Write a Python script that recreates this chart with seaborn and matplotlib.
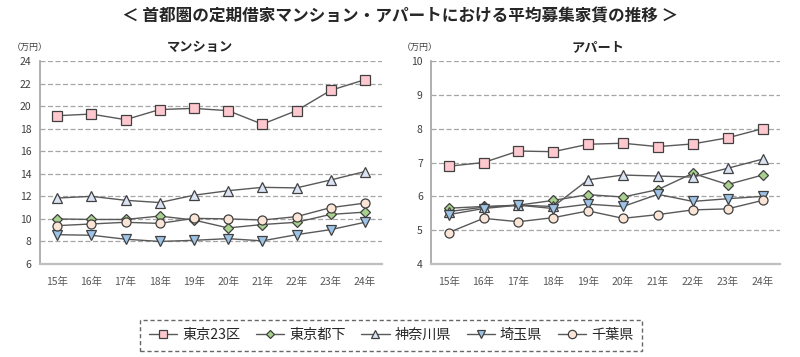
import matplotlib
matplotlib.use("Agg")
import numpy as np
import pandas as pd
import seaborn as sns
import matplotlib.pyplot as plt

# data (万円)
years = ["15年", "16年", "17年", "18年", "19年", "20年", "21年", "22年", "23年", "24年"]
series_names = ["東京23区", "東京都下", "神奈川県", "埼玉県", "千葉県"]

mansion_tokyo23 = [19.15, 19.3, 18.8, 19.7, 19.8, 19.6, 18.4, 19.6, 21.4, 22.35]
mansion_tokyo_other = [10.0, 9.95, 9.95, 10.25, 9.9, 9.2, 9.5, 9.7, 10.4, 10.6]
mansion_kanagawa = [11.85, 12.0, 11.65, 11.45, 12.1, 12.5, 12.8, 12.75, 13.45, 14.2]
mansion_saitama = [8.6, 8.55, 8.2, 8.0, 8.1, 8.25, 8.05, 8.6, 9.05, 9.7]
mansion_chiba = [9.4, 9.55, 9.7, 9.6, 10.05, 10.0, 9.9, 10.2, 11.0, 11.4]

apart_tokyo23 = [6.89, 7.0, 7.34, 7.32, 7.54, 7.57, 7.47, 7.55, 7.73, 8.0]
apart_tokyo_other = [5.65, 5.7, 5.74, 5.88, 6.05, 5.98, 6.2, 6.68, 6.35, 6.63]
apart_kanagawa = [5.55, 5.68, 5.74, 5.7, 6.49, 6.63, 6.6, 6.57, 6.83, 7.1]
apart_saitama = [5.46, 5.64, 5.74, 5.64, 5.77, 5.7, 6.06, 5.85, 5.93, 6.0]
apart_chiba = [4.93, 5.35, 5.25, 5.37, 5.57, 5.35, 5.46, 5.6, 5.63, 5.88]

mansion = [mansion_tokyo23, mansion_tokyo_other, mansion_kanagawa, mansion_saitama, mansion_chiba]
apart = [apart_tokyo23, apart_tokyo_other, apart_kanagawa, apart_saitama, apart_chiba]

markers = ["s", "D", "^", "v", "o"]
marker_sizes = [6.5, 5.5, 7.2, 7.2, 6.5]
legend_marker_sizes = [5.5, 4.5, 6, 5.5, 6]
face_colors = ["#FFC7CE", "#A9D18E", "#DAE3F3", "#9DC3E6", "#FBE5D6"]
line_color = "#595959"
edge_color = "#404040"

sns.set_theme(style="white")
plt.rcParams["font.family"] = ["Noto Sans CJK JP", "DejaVu Sans"]

fig = plt.figure(figsize=(8.0, 3.57), dpi=100)
ax_m = fig.add_axes([0.05, 0.2605, 0.4275, 0.5685])
ax_a = fig.add_axes([0.539, 0.2605, 0.436, 0.5685])


def draw_panel(ax, values, ylim, yticks, subtitle, title_x):
    for name, vals, mk, ms, fc in zip(series_names, values, markers, marker_sizes, face_colors):
        df = pd.DataFrame({"year": np.arange(len(years)), "value": vals})
        sns.lineplot(data=df, x="year", y="value", ax=ax, color=line_color, linewidth=1.0,
                     marker=mk, markersize=ms, markerfacecolor=fc, markeredgecolor=edge_color,
                     markeredgewidth=0.9, label=name, legend=False, sort=False)
    ax.set_xlim(-0.5, len(years) - 0.5)
    ax.set_ylim(*ylim)
    ax.set_yticks(yticks)
    ax.set_xticks(np.arange(len(years)))
    ax.set_xticklabels(years, fontsize=7.5, color="#595959")
    ax.tick_params(axis="y", labelsize=7.5, labelcolor="#404040", length=0, pad=6)
    ax.tick_params(axis="x", length=0, pad=9)
    ax.set_xlabel("")
    ax.set_ylabel("")
    for yv in yticks[1:]:
        ax.axhline(yv, color="#A6A6A6", linestyle=(0, (4, 2)), linewidth=0.9, zorder=0)
    for side in ["top", "right"]:
        ax.spines[side].set_visible(False)
    ax.spines["left"].set_color("#A6A6A6")
    ax.spines["bottom"].set_color("#BFBFBF")
    ax.spines["bottom"].set_linewidth(1.6)
    ax.text(title_x, 1.07, subtitle, transform=ax.transAxes, ha="center", va="center",
            fontsize=9.5, fontweight="bold")


draw_panel(ax_m, mansion, (6, 24), np.arange(6, 25, 2), "マンション", 0.468)
draw_panel(ax_a, apart, (4, 10), np.arange(4, 11, 1), "アパート", 0.478)

fig.text(0.5, 0.955, "＜ 首都圏の定期借家マンション・アパートにおける平均募集家賃の推移 ＞",
         ha="center", va="center", fontsize=12, fontweight="bold")
fig.text(0.015, 0.868, "（万円）", fontsize=6.5, color="#404040", va="center")
fig.text(0.502, 0.868, "（万円）", fontsize=6.5, color="#404040", va="center")

handles, labels = ax_m.get_legend_handles_labels()
leg = fig.legend(handles, labels, loc="center", bbox_to_anchor=(0.489, 0.0616), ncol=5,
                 fontsize=10.2, frameon=True, fancybox=False, handlelength=2.0,
                 columnspacing=1.1, handletextpad=0.35, borderpad=0.6, borderaxespad=0)
for h, ms in zip(leg.legend_handles, legend_marker_sizes):
    h.set_markersize(ms)
frame = leg.get_frame()
frame.set_edgecolor("#404040")
frame.set_linestyle((0, (3, 2)))
frame.set_linewidth(1.0)

fig.savefig("out.png", dpi=100)
